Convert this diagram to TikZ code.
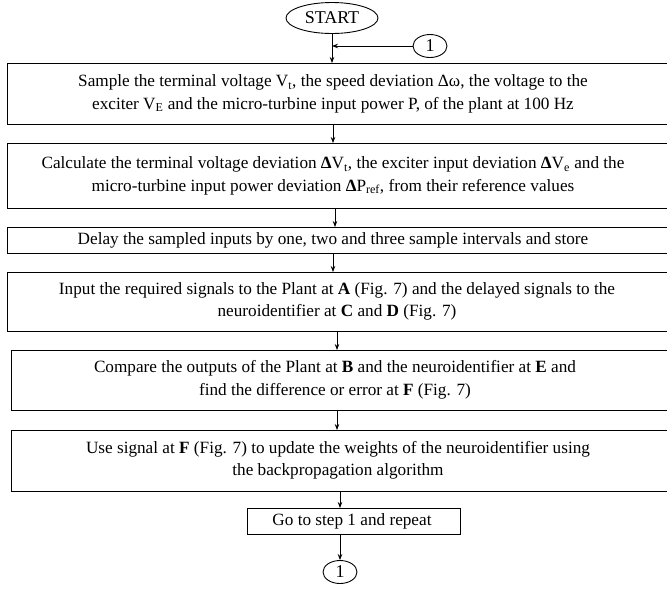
\documentclass[tikz,border=0pt]{standalone}
\usepackage{fontspec}
\setmainfont{Liberation Serif}
\usetikzlibrary{arrows.meta,shapes.geometric}
\begin{document}
\begin{tikzpicture}[x=1pt,y=-1pt,
  every node/.style={font=\fontsize{17.2}{22.5}\selectfont},
  boxnode/.style={draw,line width=0.9pt,rectangle,inner sep=0pt,anchor=north west},
  txt/.style={align=center,inner sep=0pt},
  oval/.style={draw,ellipse,line width=0.9pt,inner sep=0pt},
  arr/.style={-{Stealth[length=6pt,width=4.5pt]},line width=0.8pt}]
\useasboundingbox (0,0) rectangle (667,590);
\clip (0,0) rectangle (667,590);
% boxes
\node[boxnode,minimum width=690pt,minimum height=61pt] (b1) at (7,63) {};
\node[boxnode,minimum width=690pt,minimum height=65pt] (b2) at (7,143) {};
\node[boxnode,minimum width=690pt,minimum height=26pt] (b3) at (7,227) {};
\node[boxnode,minimum width=690pt,minimum height=59pt] (b4) at (7,272) {};
\node[boxnode,minimum width=690pt,minimum height=60pt] (b5) at (11,350) {};
\node[boxnode,minimum width=690pt,minimum height=61pt] (b6) at (11,430) {};
\node[boxnode,minimum width=213pt,minimum height=26pt] (b7) at (247,508) {};
% texts
\node[txt] (t1) at (333,94) {Sample the terminal voltage V\textsubscript{t}, the speed deviation Δω, the voltage to the\\exciter V\textsubscript{E} and the micro-turbine input power P, of the plant at 100 Hz};
\node[txt] (t2) at (333,176) {Calculate the terminal voltage deviation \textbf{Δ}V\textsubscript{t}, the exciter input deviation \textbf{Δ}V\textsubscript{e} and the\\micro-turbine input power deviation \textbf{Δ}P\textsubscript{ref}, from their reference values};
\node[txt] (t3) at (333,240.5) {Delay the sampled inputs by one, two and three sample intervals and store};
\node[txt] (t4) at (337,301.5) {Input the required signals to the Plant at \textbf{A} (Fig. 7) and the delayed signals to the\\neuroidentifier at \textbf{C} and \textbf{D} (Fig. 7)};
\node[txt] (t5) at (335,380) {Compare the outputs of the Plant at \textbf{B} and the neuroidentifier at \textbf{E} and\\find the difference or error at \textbf{F} (Fig. 7)};
\node[txt] (t6) at (338,460.5) {Use signal at \textbf{F} (Fig. 7) to update the weights of the neuroidentifier using\\the backpropagation algorithm};
\node[txt] (t7) at (352,521) {Go to step 1 and repeat};
% terminals
\node[oval,minimum width=92pt,minimum height=31pt,font=\fontsize{18}{20}\selectfont] (start) at (332,18) {START};
\node[oval,minimum width=34pt,minimum height=23pt,font=\fontsize{18}{20}\selectfont] (c1) at (430,46) {1};
\node[oval,minimum width=34pt,minimum height=23pt,font=\fontsize{18}{20}\selectfont] (c2) at (340,572) {1};
% arrow columns
\coordinate (x1) at (333,0);
\coordinate (x2) at (335,0);
\coordinate (x3) at (333,0);
\coordinate (x4) at (337,0);
\coordinate (x5) at (337,0);
\coordinate (x6) at (340,0);
% connectors
\draw[arr] (start.south) -- (start.south |- b1.north);
\draw[arr] (c1.west) -- (c1.west -| start.south);
\draw[arr] (b1.south -| x1) -- (b2.north -| x1);
\draw[arr] (b2.south -| x2) -- (b3.north -| x2);
\draw[arr] (b3.south -| x3) -- (b4.north -| x3);
\draw[arr] (b4.south -| x4) -- (b5.north -| x4);
\draw[arr] (b5.south -| x5) -- (b6.north -| x5);
\draw[arr] (b6.south -| x6) -- (b7.north -| x6);
\draw[arr] (b7.south -| c2) -- (c2.north);
\end{tikzpicture}
\end{document}
